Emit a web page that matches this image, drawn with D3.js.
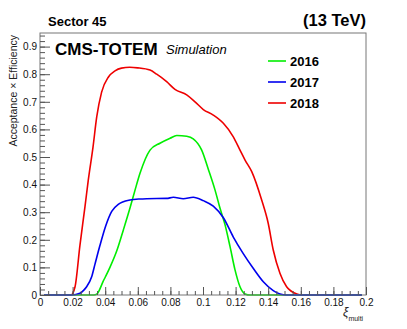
<!DOCTYPE html>
<html>
<head>
<meta charset="utf-8">
<script src="https://cdn.jsdelivr.net/npm/d3@7"></script>
<style>
  body { margin: 0; background: #fff; }
  text { font-family: "Liberation Sans", Arial, Helvetica, sans-serif; }
</style>
</head>
<body>
<script>
// series: [xi, acceptance x efficiency]
const eff2016 = [
  [0.0025, 0], [0.033, 0], [0.0348, 0.003], [0.0388, 0.05], [0.0429, 0.1],
  [0.0471, 0.16], [0.0511, 0.235], [0.0552, 0.315], [0.0583, 0.38], [0.0613, 0.44],
  [0.0675, 0.525], [0.0736, 0.55], [0.0798, 0.568], [0.0839, 0.578], [0.09, 0.575],
  [0.094, 0.566], [0.0992, 0.525], [0.1033, 0.455], [0.1074, 0.38], [0.1104, 0.315],
  [0.1135, 0.255], [0.1166, 0.175], [0.1196, 0.092], [0.1227, 0.03], [0.1258, 0.004],
  [0.129, 0], [0.1975, 0]
];
const eff2017 = [
  [0.0025, 0], [0.0195, 0], [0.0245, 0.006], [0.0266, 0.016], [0.0286, 0.03],
  [0.0317, 0.066], [0.0337, 0.111], [0.0368, 0.18], [0.0403, 0.25], [0.044, 0.303],
  [0.048, 0.328], [0.0552, 0.344], [0.0613, 0.348], [0.0654, 0.349], [0.0777, 0.35],
  [0.0818, 0.354], [0.0879, 0.349], [0.094, 0.354], [0.1002, 0.342], [0.1063, 0.322],
  [0.1125, 0.28], [0.1186, 0.21], [0.1247, 0.15], [0.1309, 0.096], [0.137, 0.048],
  [0.1431, 0.016], [0.1513, 0], [0.1975, 0]
];
const eff2018 = [
  [0.0025, 0], [0.019, 0], [0.0215, 0.03], [0.0245, 0.18], [0.0276, 0.32],
  [0.0296, 0.415], [0.0325, 0.535], [0.0348, 0.645], [0.0378, 0.735], [0.042, 0.79],
  [0.046, 0.812], [0.05, 0.822], [0.055, 0.825], [0.06, 0.823], [0.0675, 0.815],
  [0.0716, 0.8], [0.0777, 0.773], [0.0828, 0.745], [0.09, 0.725], [0.0951, 0.7],
  [0.1002, 0.672], [0.1063, 0.652], [0.1125, 0.622], [0.1186, 0.573], [0.1227, 0.525],
  [0.1258, 0.489], [0.1299, 0.447], [0.136, 0.344], [0.14, 0.26], [0.1431, 0.163],
  [0.1472, 0.079], [0.1513, 0.03], [0.1575, 0.004], [0.161, 0], [0.1975, 0]
];
const years   = ["2016", "2017", "2018"];
const xTicks  = [0, 0.02, 0.04, 0.06, 0.08, 0.1, 0.12, 0.14, 0.16, 0.18, 0.2];
const yTicks  = [0, 0.1, 0.2, 0.3, 0.4, 0.5, 0.6, 0.7, 0.8, 0.9];

const W = 407, H = 329;
const colors = { "2016": "#00ee00", "2017": "#0000ee", "2018": "#ee0000" };
const series = { "2016": eff2016, "2017": eff2017, "2018": eff2018 };

const svg = d3.select("body").append("svg").attr("width", W).attr("height", H);

// frame geometry
const fLeft = 40, fRight = 366, fTop = 33, fBottom = 295;
const x = d3.scaleLinear().domain([0, 0.2]).range([fLeft, fRight]);
const y = d3.scaleLinear().domain([0, (fBottom - fTop) / 276]).range([fBottom, fTop]);

// curves: red first, green, blue on top
const line = d3.line().x(d => x(d[0])).y(d => y(d[1])).curve(d3.curveMonotoneX);
for (const yr of ["2018", "2016", "2017"]) {
  svg.append("path")
    .attr("d", line(series[yr]))
    .attr("fill", "none")
    .attr("stroke", colors[yr])
    .attr("stroke-width", 1.6);
}

// frame
svg.append("rect")
  .attr("x", fLeft).attr("y", fTop)
  .attr("width", fRight - fLeft).attr("height", fBottom - fTop)
  .attr("fill", "none").attr("stroke", "#777").attr("stroke-width", 1);

// x axis, ticks pointing inward
const fmt = d => d3.format("~g")(d);
const xMinor = d3.range(0, 0.2001, 0.005);
svg.append("g").attr("transform", `translate(0,${fBottom})`)
  .call(d3.axisBottom(x).tickValues(xMinor).tickSize(-4).tickFormat(""))
  .call(g => g.select(".domain").remove());
svg.append("g").attr("transform", `translate(0,${fBottom})`)
  .call(d3.axisBottom(x).tickValues(xTicks).tickSize(-8).tickPadding(4).tickFormat(fmt))
  .call(g => g.select(".domain").remove());

// y axis
const yMinor = d3.range(0, 0.9401, 0.02);
svg.append("g").attr("transform", `translate(${fLeft},0)`)
  .call(d3.axisLeft(y).tickValues(yMinor).tickSize(-5).tickFormat(""))
  .call(g => g.select(".domain").remove());
svg.append("g").attr("transform", `translate(${fLeft},0)`)
  .call(d3.axisLeft(y).tickValues(yTicks).tickSize(-10).tickPadding(3).tickFormat(fmt))
  .call(g => g.select(".domain").remove());

svg.selectAll(".tick line").attr("stroke", "#555");
svg.selectAll(".tick text")
  .attr("font-family", "Liberation Sans, Arial, sans-serif")
  .attr("font-size", 10).attr("fill", "#111");

// axis titles
svg.append("text")
  .attr("transform", `translate(17,${fTop + 2}) rotate(-90)`)
  .attr("text-anchor", "end").attr("font-size", 10.5).attr("fill", "#222")
  .text("Acceptance \u00d7 Efficiency");

const xt = svg.append("text").attr("x", 343).attr("y", 316).attr("font-size", 12).attr("fill", "#222");
xt.append("tspan").attr("font-style", "italic").text("\u03be");
xt.append("tspan").attr("dy", 5).attr("font-size", 7).text("multi");

// header texts
svg.append("text").attr("x", 48).attr("y", 26)
  .attr("font-size", 13).attr("font-weight", "bold").text("Sector 45");
svg.append("text").attr("x", 366).attr("y", 26).attr("text-anchor", "end")
  .attr("font-size", 16.5).attr("font-weight", "bold").text("(13 TeV)");
svg.append("text").attr("x", 55).attr("y", 55)
  .attr("font-size", 17).attr("font-weight", "bold").text("CMS-TOTEM");
svg.append("text").attr("x", 166).attr("y", 54)
  .attr("font-size", 13).attr("font-style", "italic").text("Simulation");

// legend
const legY = [61, 82, 103];
years.forEach((yr, i) => {
  svg.append("line")
    .attr("x1", 268).attr("x2", 286).attr("y1", legY[i]).attr("y2", legY[i])
    .attr("stroke", colors[yr]).attr("stroke-width", 1.6);
  svg.append("text").attr("x", 290).attr("y", legY[i] + 4.5)
    .attr("font-size", 13).attr("font-weight", "bold").text(yr);
});
</script>
</body>
</html>
